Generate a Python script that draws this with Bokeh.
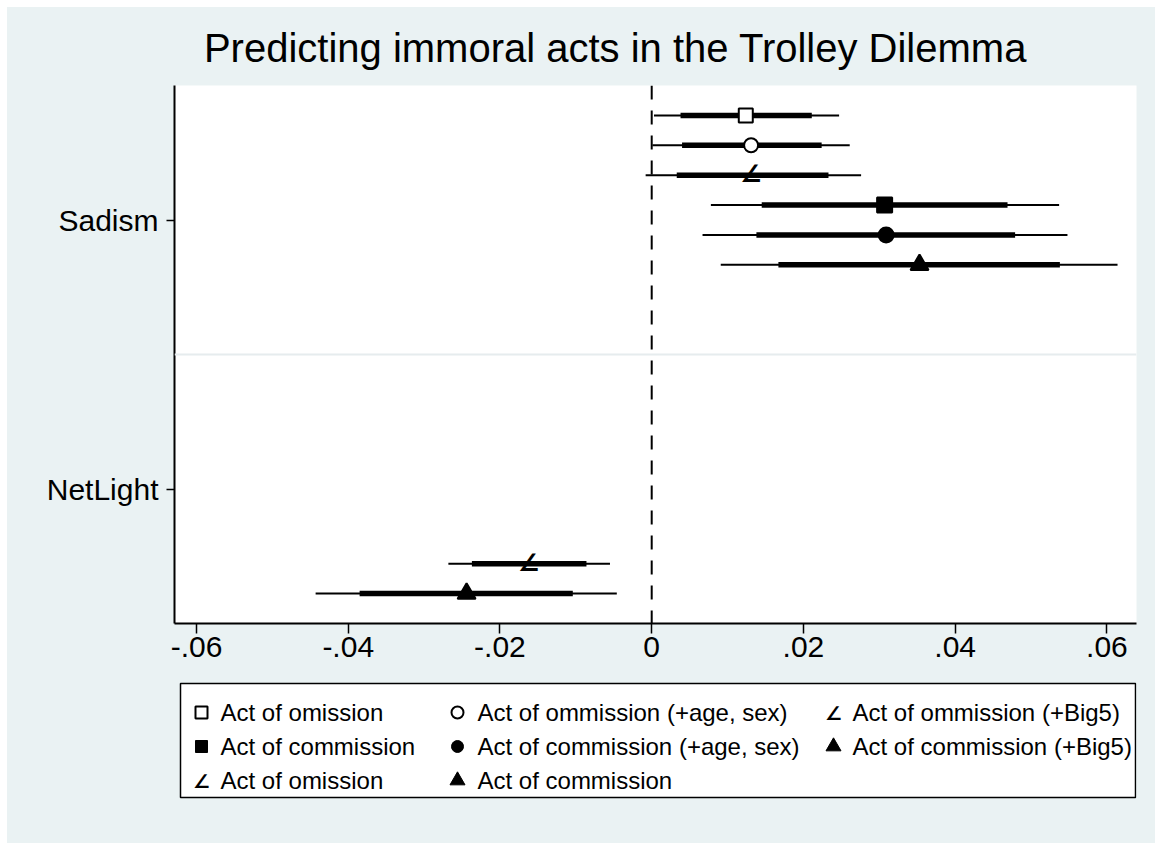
from bokeh.plotting import figure
from bokeh.models import Range1d, FixedTicker, Span
from bokeh.layouts import column
from bokeh.embed import file_html
from bokeh.resources import INLINE
from bokeh.core.properties import value

# ---------------- data ----------------
title_text = "Predicting immoral acts in the Trolley Dilemma"
variables = ["Sadism", "NetLight"]
series_labels = [
    "Act of omission",
    "Act of ommission (+age, sex)",
    "Act of ommission (+Big5)",
    "Act of commission",
    "Act of commission (+age, sex)",
    "Act of commission (+Big5)",
    "Act of omission",
    "Act of commission",
]
series_variable = [0, 0, 0, 0, 0, 0, 1, 1]
coef = [0.0124, 0.0131, 0.0131, 0.0307, 0.0309, 0.0353, -0.0162, -0.0244]
ci_wide_lo = [0.0003, 0.0001, -0.0008, 0.0078, 0.0067, 0.0091, -0.0268, -0.0443]
ci_wide_hi = [0.0247, 0.0261, 0.0276, 0.0537, 0.0548, 0.0614, -0.0055, -0.0046]
ci_narrow_lo = [0.0038, 0.0040, 0.0033, 0.0145, 0.0138, 0.0167, -0.0237, -0.0385]
ci_narrow_hi = [0.0211, 0.0224, 0.0233, 0.0469, 0.0479, 0.0538, -0.0086, -0.0104]
x_ticks = [-0.06, -0.04, -0.02, 0.0, 0.02, 0.04, 0.06]
x_tick_labels = ["-.06", "-.04", "-.02", "0", ".02", ".04", ".06"]

# marker styles per series
marker_kind = ["square", "circle", "angle", "square", "circle", "triangle", "angle", "triangle"]
marker_filled = [False, False, False, True, True, True, False, True]

BG = "#eaf2f3"
FONT = "Liberation Sans"
W = 1148
BL, BR = 167, 19          # left / right borders -> frame spans page x 174..1136
FX0, FX1 = 174, 1136      # frame in page pixels (for the title / legend panels)

n_series = len(series_labels)
ypos = [series_variable[i] + 1 + (i + 1 - (n_series + 1) / 2) / (n_series + 1) for i in range(n_series)]


def panel(height, y_top, y_bottom):
    f = figure(width=W, height=height, output_backend="svg", toolbar_location=None,
               x_range=Range1d(FX0, FX1), y_range=Range1d(y_bottom, y_top),
               x_axis_type=None, y_axis_type=None,
               min_border_left=BL, min_border_right=BR, min_border_top=0, min_border_bottom=0)
    f.background_fill_color = BG
    f.border_fill_color = BG
    f.outline_line_color = None
    f.xgrid.visible = False
    f.ygrid.visible = False
    return f


# ---------------- title panel (page y 7..80) ----------------
tp = panel(73, 7, 80)
tp.text(x=[615], y=[47], text=[title_text], text_font=value(FONT), text_font_size="40px",
        text_align="center", text_baseline="middle", text_color="black")

# ---------------- main plot (page y 80..680) ----------------
p = figure(width=W, height=600, output_backend="svg", toolbar_location=None,
           x_range=Range1d(-0.0629, 0.0639), y_range=Range1d(2.5, 0.5),
           min_border_left=BL, min_border_right=BR, min_border_top=5, min_border_bottom=57)
p.background_fill_color = "white"
p.border_fill_color = BG
p.outline_line_color = None
p.xgrid.visible = False
p.ygrid.visible = False

# group separator
p.add_layout(Span(location=1.5, dimension="width", line_color="#e6ecee", line_width=2))
# zero line
p.add_layout(Span(location=0, dimension="height", line_color="black", line_width=2, line_dash="14 11"))

p.segment(x0=ci_wide_lo, y0=ypos, x1=ci_wide_hi, y1=ypos, line_color="black", line_width=2)
p.segment(x0=ci_narrow_lo, y0=ypos, x1=ci_narrow_hi, y1=ypos, line_color="black", line_width=5.5)

size_map = {"square": 14, "circle": 14, "triangle": 17}
for i in range(n_series):
    kind = marker_kind[i]
    if kind == "angle":
        p.text(x=[coef[i]], y=[ypos[i]], text=["\u2220"], text_font=value("DejaVu Sans"),
               text_font_size="24px", text_font_style="bold", text_align="center",
               text_baseline="middle", text_color="black", y_offset=-1)
    else:
        p.scatter(x=[coef[i]], y=[ypos[i]], marker=kind, size=size_map[kind] + (1 if marker_filled[i] else 0),
                  fill_color="black" if marker_filled[i] else "white",
                  line_color="black", line_width=2)

p.xaxis.ticker = FixedTicker(ticks=x_ticks)
p.xaxis.major_label_overrides = {t: l for t, l in zip(x_ticks, x_tick_labels)}
p.yaxis.ticker = FixedTicker(ticks=[1, 2])
p.yaxis.major_label_overrides = {i + 1: v for i, v in enumerate(variables)}
for ax in (p.xaxis, p.yaxis):
    ax.axis_line_color = "black"
    ax.axis_line_width = 2
    ax.major_tick_line_color = "black"
    ax.major_tick_line_width = 1.5
    ax.minor_tick_line_color = None
    ax.major_tick_in = 0
    ax.major_label_text_font = FONT
    ax.major_label_text_color = "black"
p.xaxis.major_label_text_font_size = "30px"
p.yaxis.major_label_text_font_size = "30px"
p.xaxis.major_tick_out = 10
p.xaxis.major_label_standoff = 3
p.yaxis.major_tick_out = 8
p.yaxis.major_label_standoff = 8
p.yaxis.major_label_orientation = "horizontal"

# ---------------- legend panel (page y 680..843) ----------------
lg = panel(163, 680, 843)
lg.quad(left=[180], right=[1135], top=[683], bottom=[797], fill_color="white",
        line_color="black", line_width=1.5)

legend_layout = [[0, 1, 2], [3, 4, 5], [6, 7]]
col_marker_x = [201, 457, 833]
col_text_x = [220, 477, 852]
row_y = [712, 746, 780]
leg_size = {"square": 12, "circle": 12, "triangle": 15}
for r, row in enumerate(legend_layout):
    for c, si in enumerate(row):
        kind = marker_kind[si]
        if kind == "angle":
            lg.text(x=[col_marker_x[c]], y=[row_y[r]], text=["\u2220"], text_font=value("DejaVu Sans"),
                    text_font_size="19px", text_font_style="bold", text_align="center",
                    text_baseline="middle", text_color="black")
        else:
            lg.scatter(x=[col_marker_x[c]], y=[row_y[r]], marker=kind, size=leg_size[kind],
                       fill_color="black" if marker_filled[si] else "white",
                       line_color="black", line_width=2 if not marker_filled[si] else 1)
        lg.text(x=[col_text_x[c]], y=[row_y[r]], text=[series_labels[si]], text_font=value(FONT),
                text_font_size="24px", text_align="left", text_baseline="middle", text_color="black")

layout = column(tp, p, lg, spacing=0, margin=(7, 0, 0, 7))
layout.styles = {"background-color": BG}

open("out.html", "w").write(file_html(layout, INLINE))
